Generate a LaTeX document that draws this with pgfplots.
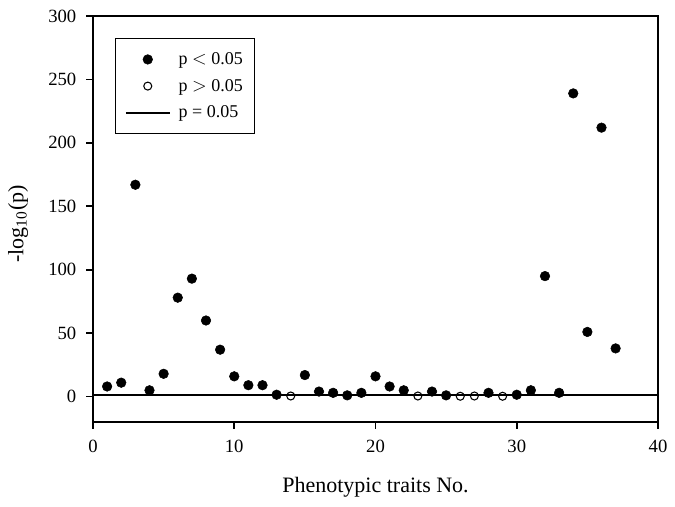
\documentclass[border=0pt]{standalone}
\usepackage{pgfplots}
\pgfplotsset{compat=1.18}
\usepackage{fontspec}
\setmainfont{Liberation Serif}
\pgfplotsset{
  markleg/.style={legend image code/.code={\draw[mark repeat=2,mark phase=2,##1] plot coordinates {(0cm,0cm) (0.58cm,0cm) (1.16cm,0cm)};}},
  lineleg/.style={legend image code/.code={\draw[##1, line width=1.3pt] (0cm,0cm) -- (1.16cm,0cm);}},
}
\begin{document}
\begin{tikzpicture}
\begin{axis}[
  at={(0pt,0pt)}, anchor=south west,
  scale only axis, width=423.75pt, height=304.5pt,
  xmin=0, xmax=40, ymin=-20, ymax=300,
  xtick={0,10,20,30,40}, ytick={0,50,100,150,200,250,300},
  tick align=outside, major tick length=5pt,
  xtick pos=bottom, ytick pos=left,
  axis line style={line width=1.3pt},
  every tick/.style={line width=1.3pt, black},
  ticklabel style={font=\fontsize{14}{16}\selectfont},
  /pgf/number format/assume math mode=true,
  xticklabel style={yshift=-5pt},
  yticklabel style={xshift=-4pt},
  xlabel={Phenotypic traits No.},
  ylabel={-log\textsubscript{10}(p)},
  label style={font=\fontsize{16.5}{19}\selectfont},
  xlabel style={at={(axis description cs:0.5,-0.160)}, anchor=center},
  ylabel style={at={(axis description cs:-0.1327,0.488)}, anchor=center},
  legend style={at={(0.039,0.946)}, anchor=north west, draw=black, line width=0.8pt,
    font=\fontsize{13.5}{15}\selectfont, inner xsep=7pt, inner ysep=8.5pt,
    row sep=5.5pt, column sep=4pt, cells={anchor=west}},
  legend cell align=left,
  clip=false,
]
\addplot[only marks, mark=*, mark size=3.6pt, black, mark options={fill=black, line width=0.4pt}, markleg] coordinates {
(1,8) (2,11) (3,167) (4,5) (5,18) (6,78) (7,93) (8,60) (9,37) (10,16)
(11,9) (12,9) (13,1.5) (15,17) (16,4) (17,3) (18,1) (19,3) (20,16)
(21,8) (22,5) (24,4) (25,1) (28,3) (30,1.5) (31,5) (32,95) (33,3)
(34,239) (35,51) (36,212) (37,38)
};
\addlegendentry{p $<$ 0.05}
\addplot[only marks, mark=o, mark size=3pt, black, mark options={line width=0.8pt, fill=white}, markleg] coordinates {
(14,0.5) (23,0.5) (26,0.3) (27,0.5) (29,0.3)
};
\addlegendentry{p $>$ 0.05}
\addplot[black, line width=1.3pt, no marks, lineleg] coordinates {(0,1.3) (40,1.3)};
\addlegendentry{p = 0.05}
\end{axis}
\path (-69.75pt,-63.75pt) rectangle (436.5pt,316.5pt);
\end{tikzpicture}
\end{document}
